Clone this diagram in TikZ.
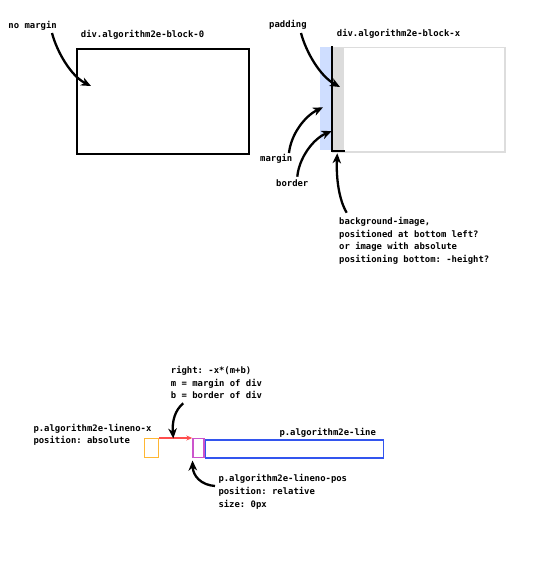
\documentclass[tikz,border=0pt]{standalone}
\usepackage{fontspec}
\newfontfamily\dvm{DejaVu Sans Mono}
\usetikzlibrary{arrows.meta}
\definecolor{marginblue}{HTML}{CFDEFF}
\definecolor{padgray}{HTML}{DCDCDC}
\definecolor{outgray}{HTML}{DDDDDD}
\definecolor{orangebox}{HTML}{FFB733}
\definecolor{magbox}{HTML}{CC55CC}
\definecolor{bluebox}{HTML}{3355EE}
\definecolor{redline}{HTML}{FF4D4D}
\begin{document}
\frenchspacing
\begin{tikzpicture}[x=1pt,y=-1pt,
  lbl/.style={anchor=west,inner sep=0pt,text height=6.8pt,text depth=2.1pt,font=\dvm\bfseries\frenchspacing\fontsize{8.9}{12.6}\selectfont},
  mlbl/.style={anchor=north west,inner sep=0pt,align=left,font=\dvm\bfseries\frenchspacing\fontsize{8.9}{12.6}\selectfont},
  callout/.style={line width=2.3pt,-{Stealth[length=10pt,width=8.5pt,inset=3pt]}},
  box/.style={inner sep=0pt,anchor=north west}]
\useasboundingbox (0,0) rectangle (540,565);
% top left block
\node[box,draw,line width=2pt,minimum width=172.3pt,minimum height=104.7pt] (blk0) at (76,48.3) {};
\node[lbl] (nomargin) at (8.3,26) {no margin};
\node[lbl] (blk0lbl) at (80.7,35) {div.algorithm2e-block-0};
\coordinate (nmstart) at (52,33);
\coordinate (nmtip) at (91,86);
\draw[callout] (nmstart) .. controls (57,52) and (71,76) .. (nmtip);
% top right block
\fill[marginblue] (320.3,46.7) rectangle (332.3,150);
\fill[padgray] (332.3,46.7) rectangle (344,151);
\node[box,draw=outgray,line width=1.5pt,minimum width=172pt,minimum height=104.3pt] (blkx) at (332.3,46.7) {};
\coordinate (bordertop) at (332.3,46.3);
\coordinate (borderbot) at (332.3,151.3);
\coordinate (borderend) at (344.5,151.3);
\draw[line width=1.8pt] (bordertop) -- (borderbot) -- (borderend);
\node[lbl] (padding) at (269,25) {padding};
\node[lbl] (blkxlbl) at (336.7,34.3) {div.algorithm2e-block-x};
\node[lbl] (margin) at (260,159.3) {margin};
\node[lbl] (border) at (276,184.3) {border};
\node[mlbl] (bgimg) at (339,217.2) {background-image,\\positioned at bottom left?\\or image with absolute\\positioning bottom: -height?};
\coordinate (padstart) at (301,33);
\coordinate (padtip) at (340,87);
\draw[callout] (padstart) .. controls (306,52) and (320,76) .. (padtip);
\coordinate (marstart) at (289,153);
\coordinate (martip) at (323,107.3);
\draw[callout] (marstart) .. controls (291,134) and (305,116) .. (martip);
\coordinate (borstart) at (297.3,176.7);
\coordinate (bortip) at (331.7,131);
\draw[callout] (borstart) .. controls (299,158) and (313,139) .. (bortip);
\coordinate (bgstart) at (346.7,212.7);
\coordinate (bgtip) at (337.3,153.3);
\draw[callout] (bgstart) .. controls (339,200) and (336,178) .. (bgtip);
% bottom
\node[box,draw=orangebox,line width=1.2pt,minimum width=14pt,minimum height=18.7pt] (linenox) at (144,438) {};
\node[box,draw=magbox,line width=1.2pt,minimum width=11pt,minimum height=19pt] (linenopos) at (192.3,438) {};
\node[box,draw=bluebox,line width=1.2pt,minimum width=177.7pt,minimum height=18pt] (line) at (205,439.3) {};
\draw[redline,line width=1.2pt,-{Stealth[length=6pt,width=5pt]}] (linenox.north east) -- (linenopos.north west);
\node[mlbl] (rightlbl) at (170.7,366.2) {right: -x*(m+b)\\m = margin of div\\b = border of div};
\node[mlbl] (linenoxlbl) at (33.3,423.8) {p.algorithm2e-lineno-x\\position: absolute};
\node[lbl] (linelbl) at (279.3,433.3) {p.algorithm2e-line};
\node[mlbl] (linenoposlbl) at (218.3,474.5) {p.algorithm2e-lineno-pos\\position: relative\\size: 0px};
\coordinate (rstart) at (183.3,403.3);
\coordinate (rtip) at (173.3,438.5);
\draw[callout] (rstart) .. controls (175,410) and (172,421) .. (rtip);
\coordinate (pstart) at (215,486);
\coordinate (ptip) at (192.5,460.5);
\draw[callout] (pstart) .. controls (201,485) and (193,476) .. (ptip);
\end{tikzpicture}
\end{document}
